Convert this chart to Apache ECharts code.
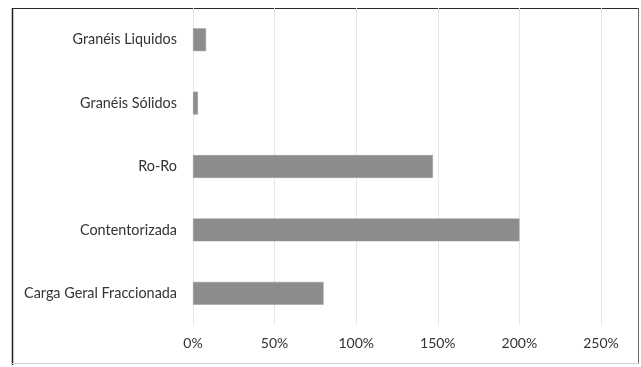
<!DOCTYPE html>
<html>
<head>
<meta charset="utf-8">
<script src="https://cdn.jsdelivr.net/npm/echarts@6/dist/echarts.min.js"></script>
<style>
  html, body { margin: 0; padding: 0; background: #fff; }
  #chart { width: 641px; height: 367px; }
</style>
</head>
<body>
<div id="chart"></div>
<script>
// Cargo types (bottom to top) and their share values in percent
const categories = ['Carga Geral Fraccionada', 'Contentorizada', 'Ro-Ro', 'Granéis Sólidos', 'Granéis Liquidos'];
const values = [80, 200, 147, 3, 8];
const tickValues = [0, 50, 100, 150, 200, 250];

const FONT = "Lato, 'Liberation Sans Narrow', sans-serif";
const chart = echarts.init(document.getElementById('chart'), null, { renderer: 'canvas' });

chart.setOption({
  backgroundColor: '#fff',
  animation: false,
  grid: { left: 193, right: 40, top: 8, bottom: 42, containLabel: false },
  xAxis: {
    type: 'value',
    min: tickValues[0],
    max: tickValues[tickValues.length - 1],
    interval: 50,
    axisLine: { show: false },
    axisTick: { show: false },
    axisLabel: {
      formatter: v => v + '%',
      color: '#333',
      fontFamily: FONT,
      fontSize: 14,
      margin: 11
    },
    splitLine: { show: true, lineStyle: { color: '#e6e6e6', width: 1 } }
  },
  yAxis: {
    type: 'category',
    data: categories,
    axisLine: { show: false },
    axisTick: { show: false },
    axisLabel: {
      color: '#333',
      fontFamily: FONT,
      fontSize: 14.4,
      margin: 16
    }
  },
  series: [{
    type: 'bar',
    data: values,
    barWidth: '36%',
    itemStyle: { color: '#8c8c8c', borderColor: '#9a9a9a', borderWidth: 0.5 }
  }],
  graphic: [
    { type: 'line', shape: { x1: 12.5, y1: 8, x2: 12.5, y2: 365 }, style: { stroke: '#1e1e1e', lineWidth: 1.5 } },
    { type: 'line', shape: { x1: 12, y1: 8.5, x2: 639, y2: 8.5 }, style: { stroke: '#2a2a2a', lineWidth: 1.2 } },
    { type: 'line', shape: { x1: 638.5, y1: 8, x2: 638.5, y2: 364 }, style: { stroke: '#666', lineWidth: 1 } },
    { type: 'line', shape: { x1: 12, y1: 363.5, x2: 639, y2: 363.5 }, style: { stroke: '#cfcfcf', lineWidth: 1 } }
  ]
});
</script>
</body>
</html>
